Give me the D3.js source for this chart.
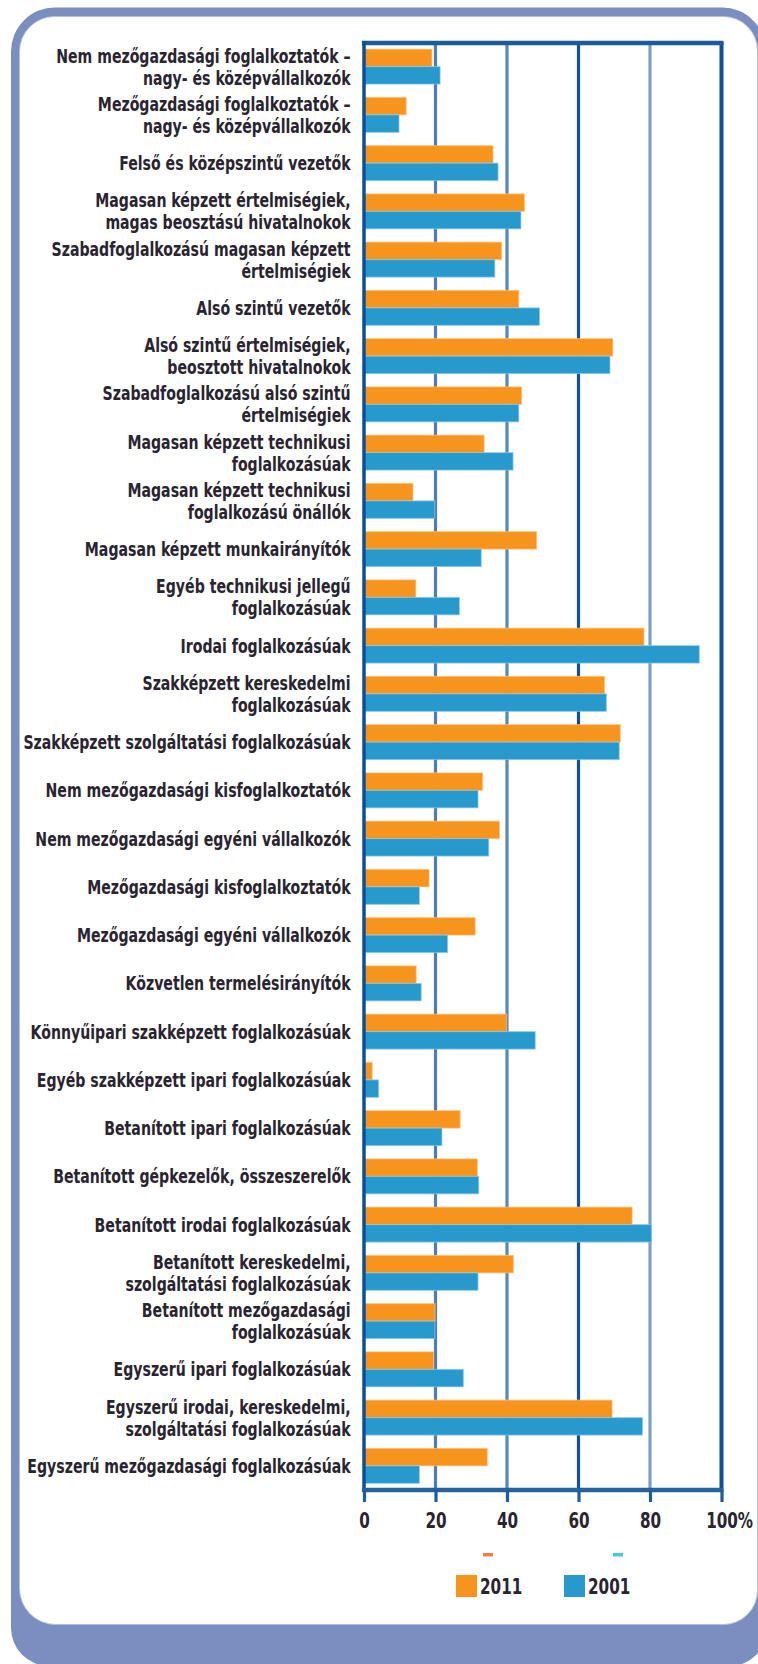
<!DOCTYPE html>
<html><head><meta charset="utf-8">
<script src="https://cdn.jsdelivr.net/npm/d3@7"></script>
<style>body{margin:0;background:#fff;} svg{display:block;}</style>
</head><body>
<svg id="c" width="758" height="1664"></svg>
<script>
const categories = [
  "Nem mezőgazdasági foglalkoztatók –\nnagy- és középvállalkozók",
  "Mezőgazdasági foglalkoztatók –\nnagy- és középvállalkozók",
  "Felső és középszintű vezetők",
  "Magasan képzett értelmiségiek,\nmagas beosztású hivatalnokok",
  "Szabadfoglalkozású magasan képzett\nértelmiségiek",
  "Alsó szintű vezetők",
  "Alsó szintű értelmiségiek,\nbeosztott hivatalnokok",
  "Szabadfoglalkozású alsó szintű\nértelmiségiek",
  "Magasan képzett technikusi\nfoglalkozásúak",
  "Magasan képzett technikusi\nfoglalkozású önállók",
  "Magasan képzett munkairányítók",
  "Egyéb technikusi jellegű\nfoglalkozásúak",
  "Irodai foglalkozásúak",
  "Szakképzett kereskedelmi\nfoglalkozásúak",
  "Szakképzett szolgáltatási foglalkozásúak",
  "Nem mezőgazdasági kisfoglalkoztatók",
  "Nem mezőgazdasági egyéni vállalkozók",
  "Mezőgazdasági kisfoglalkoztatók",
  "Mezőgazdasági egyéni vállalkozók",
  "Közvetlen termelésirányítók",
  "Könnyűipari szakképzett foglalkozásúak",
  "Egyéb szakképzett ipari foglalkozásúak",
  "Betanított ipari foglalkozásúak",
  "Betanított gépkezelők, összeszerelők",
  "Betanított irodai foglalkozásúak",
  "Betanított kereskedelmi,\nszolgáltatási foglalkozásúak",
  "Betanított mezőgazdasági\nfoglalkozásúak",
  "Egyszerű ipari foglalkozásúak",
  "Egyszerű irodai, kereskedelmi,\nszolgáltatási foglalkozásúak",
  "Egyszerű mezőgazdasági foglalkozásúak"
];
const values2011 = [19.0, 11.8, 36.1, 44.9, 38.5, 43.3, 69.6, 44.1, 33.6, 13.7,
                    48.3, 14.5, 78.3, 67.3, 71.7, 33.2, 37.9, 18.2, 31.1, 14.6,
                    39.9, 2.3, 26.9, 31.7, 75.0, 41.8, 19.9, 19.5, 69.4, 34.5];
const values2001 = [21.3, 9.8, 37.5, 43.9, 36.6, 49.1, 68.8, 43.3, 41.7, 19.8,
                    32.8, 26.7, 93.8, 67.8, 71.4, 31.9, 34.9, 15.5, 23.4, 16.0,
                    47.9, 4.1, 21.8, 32.1, 80.4, 31.9, 19.8, 27.8, 77.9, 15.5];
const tickValues = [0, 20, 40, 60, 80, 100];
const tickLabels = ["0", "20", "40", "60", "80", "100%"];
const seriesNames = ["2011", "2001"];

// styles
const seriesColors = ["#f7941e", "#2899cd"];
const seriesHalo = ["#fbc27e", "#8fcbe7"];
const gridColors = {20: "#4d7eb0", 40: "#5a88b5", 60: "#0f5396", 80: "#7e9fc4", 100: "#0e4e91"};
const FONT = "'Liberation Sans Narrow','DejaVu Sans Condensed','Arial Narrow',sans-serif";
const textColor = "#29242f";
const FS = 19.5;

const svg = d3.select("#c");

function rpath(x0, y0, x1, y1, tl, tr, br, bl) {
  return `M${x0+tl},${y0}H${x1-tr}A${tr},${tr} 0 0 1 ${x1},${y0+tr}V${y1-br}` +
         `A${br},${br} 0 0 1 ${x1-br},${y1}H${x0+bl}A${bl},${bl} 0 0 1 ${x0},${y1-bl}` +
         `V${y0+tl}A${tl},${tl} 0 0 1 ${x0+tl},${y0}Z`;
}
// frame
svg.append("path").attr("d", rpath(11, 7.5, 766, 1666, 44, 44, 36, 38)).attr("fill", "#7a8ec0");
svg.append("path").attr("d", rpath(19.5, 16.5, 757.5, 1624.5, 35, 34, 34, 36))
  .attr("fill", "#fff").attr("stroke", "#b3bedb").attr("stroke-width", 1);

// measure text scale
const meas = svg.append("text").attr("font-family", FONT).attr("font-size", FS)
  .attr("font-weight", "bold").text("Szakképzett szolgáltatási foglalkozásúak");
const natW = meas.node().getComputedTextLength();
meas.remove();
const k = 327.4 / natW;

const x = d3.scaleLinear().domain([0, 100]).range([364, 721.5]);
const y = d3.scaleBand().domain(d3.range(categories.length)).range([42.5, 1490])
  .paddingInner(0.275).paddingOuter(0.1375);
const ySub = d3.scaleBand().domain([0, 1]).range([0, y.bandwidth()]);

// grid lines
svg.append("g").selectAll("line").data(tickValues.filter(d => d > 0)).join("line")
  .attr("x1", d => x(d)).attr("x2", d => x(d))
  .attr("y1", 42).attr("y2", 1490)
  .attr("stroke", d => gridColors[d])
  .attr("stroke-width", d => d === 100 ? 4 : 3.2);

// bars
const series = [values2011, values2001];
const gBars = svg.append("g");
series.forEach((vals, si) => {
  gBars.append("g").selectAll("rect").data(vals).join("rect")
    .attr("x", x(0))
    .attr("y", (d, i) => y(i) + ySub(si))
    .attr("width", d => x(d) - x(0))
    .attr("height", ySub.bandwidth())
    .attr("fill", seriesColors[si])
    .attr("stroke", seriesHalo[si]).attr("stroke-width", 1).attr("stroke-opacity", 0.7);
});

// top frame line and left axis line
svg.append("line").attr("x1", 362).attr("x2", 723.5).attr("y1", 43).attr("y2", 43)
  .attr("stroke", "#1c5a99").attr("stroke-width", 4.5);
svg.append("line").attr("x1", x(0)).attr("x2", x(0)).attr("y1", 41).attr("y2", 1490)
  .attr("stroke", "#0d4f94").attr("stroke-width", 3.5);

// bottom axis
const axis = d3.axisBottom(x).tickValues(tickValues).tickSize(12).tickSizeOuter(0)
  .tickFormat((d, i) => tickLabels[i]);
const gAx = svg.append("g").attr("transform", "translate(0,1490)").call(axis);
gAx.select(".domain").attr("stroke", "#2462a0").attr("stroke-width", 4.5)
  .attr("d", `M${x(0)-2},0H${x(100)+2}`);
gAx.selectAll(".tick line").attr("stroke", "#1f5c9b").attr("stroke-width", 3.2);
gAx.selectAll(".tick text").attr("font-family", FONT).attr("font-size", 21)
  .attr("font-weight", "bold")
  .attr("fill", textColor).attr("y", 38).attr("dy", 0)
  .attr("transform", `scale(${k},1)`);
gAx.selectAll(".tick text").filter(d => d === 100).each(function () {
  const t = d3.select(this);
  const tmp = svg.append("text").attr("font-family", FONT).attr("font-size", 21)
    .attr("font-weight", "bold").text("100");
  const w = tmp.node().getComputedTextLength();
  tmp.remove();
  t.attr("text-anchor", "start").attr("x", -w / 2);
});

// category labels
const lh = 22;
const gLab = svg.append("g");
categories.forEach((c, i) => {
  const lines = c.split("\n");
  const cy = y(i) + y.bandwidth() / 2;
  const t = gLab.append("text")
    .attr("transform", `translate(350.6,${cy}) scale(${k},1)`)
    .attr("text-anchor", "end")
    .attr("font-family", FONT).attr("font-size", FS).attr("font-weight", "bold")
    .attr("fill", textColor);
  lines.forEach((ln, j) => {
    t.append("tspan").attr("x", 0)
      .attr("y", -(lines.length - 1) * lh / 2 + j * lh + 7)
      .text(ln);
  });
});

// legend
const legX = [456, 564];
const dashX = [483, 613];
const dashColors = ["#f47a40", "#42c8f0"];
seriesNames.forEach((s, i) => {
  svg.append("rect").attr("x", dashX[i]).attr("y", 1553).attr("width", 10).attr("height", 3.5)
    .attr("fill", dashColors[i]);
  svg.append("rect").attr("x", legX[i]).attr("y", 1575).attr("width", 21).attr("height", 22)
    .attr("fill", seriesColors[i]);
  svg.append("text").attr("transform", `translate(${legX[i] + 24},1594) scale(${k},1)`)
    .attr("font-family", FONT).attr("font-size", 21).attr("font-weight", "bold")
    .attr("fill", textColor).text(s);
});
</script>
</body></html>
